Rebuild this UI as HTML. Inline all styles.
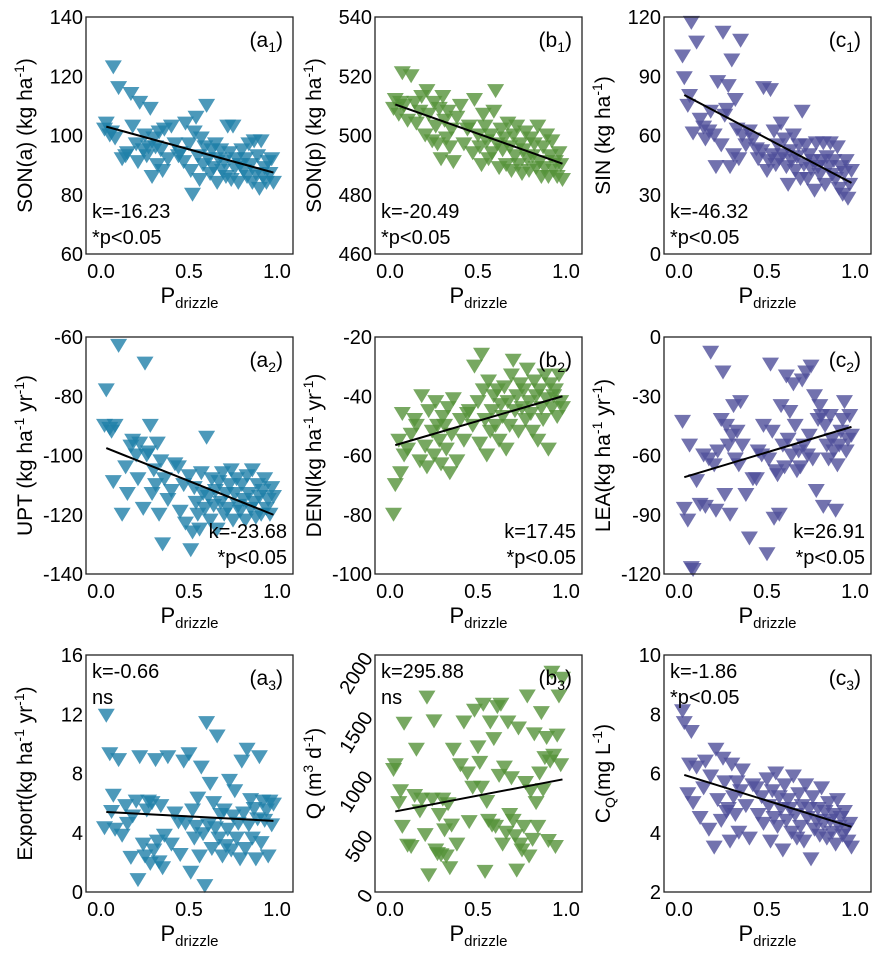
<!DOCTYPE html>
<html><head><meta charset="utf-8"><style>
html,body{margin:0;padding:0;background:#fff;}
svg{display:block;font-family:"Liberation Sans",Arial,sans-serif;}
</style></head><body>
<svg id="fig" width="882" height="957" viewBox="0 0 882 957" xmlns="http://www.w3.org/2000/svg"></svg>
<script>
const xVals=[0.02,0.03,0.05,0.07,0.08,0.1,0.12,0.14,0.15,0.17,0.18,0.2,0.21,0.22,0.24,0.25,0.26,0.28,0.29,0.3,0.31,0.32,0.33,0.34,0.35,0.36,0.38,0.4,0.42,0.45,0.47,0.48,0.5,0.51,0.52,0.53,0.54,0.55,0.56,0.57,0.58,0.59,0.6,0.61,0.62,0.63,0.64,0.65,0.66,0.67,0.68,0.69,0.7,0.71,0.72,0.73,0.74,0.75,0.76,0.77,0.78,0.79,0.8,0.81,0.82,0.83,0.84,0.85,0.86,0.87,0.88,0.89,0.9,0.91,0.92,0.93,0.94,0.95,0.96,0.97,0.98,0.06,0.27,0.44];
const yA1=[102,104,100,123,99,116,92,93,94,114,103,97,91,111,95,100,93,109,86,99,96,90,101,95,88,102,92,103,97,94,91,104,97,88,80,101,106,93,85,99,90,96,110,92,87,95,89,97,84,92,95,88,91,86,103,94,85,103,89,92,84,90,95,88,92,86,97,90,84,98,87,93,82,98,86,89,84,91,87,92,84,101,96,93];
const yB1=[509,512,507,521,510,505,520,511,504,508,513,500,515,507,498,511,503,509,492,513,505,499,508,496,502,491,506,510,497,503,494,512,500,496,490,507,503,498,492,500,494,508,515,497,489,502,495,499,490,504,496,488,500,493,503,490,497,487,495,501,492,488,499,493,497,489,503,491,486,496,489,500,486,493,498,488,491,486,494,490,485,511,497,502];
const yC1=[100,89,75,117,61,107,68,64,58,62,72,60,44,87,55,112,70,85,44,98,50,78,63,48,108,60,55,62,58,48,52,84,42,47,83,50,62,45,55,48,66,50,58,44,35,52,47,60,42,49,55,38,72,45,55,38,50,43,47,32,56,44,40,47,56,35,49,44,56,40,47,38,54,33,44,30,41,47,28,35,42,80,73,53];
const yA2=[-90,-78,-91,-109,-90,-63,-120,-104,-113,-97,-95,-100,-108,-96,-118,-69,-100,-90,-113,-105,-110,-96,-120,-102,-130,-108,-115,-112,-103,-119,-110,-123,-107,-132,-126,-111,-116,-120,-125,-106,-113,-118,-94,-114,-122,-108,-117,-112,-125,-109,-116,-106,-120,-113,-118,-110,-105,-122,-113,-108,-117,-119,-110,-115,-122,-107,-113,-118,-105,-116,-121,-110,-114,-120,-112,-108,-118,-115,-120,-111,-114,-92,-99,-104];
const yB2=[-80,-70,-55,-46,-60,-58,-53,-48,-50,-62,-40,-57,-64,-45,-52,-60,-42,-55,-63,-47,-50,-58,-44,-66,-53,-41,-62,-48,-55,-45,-50,-30,-42,-56,-26,-38,-48,-60,-35,-52,-45,-40,-50,-38,-55,-43,-47,-37,-58,-42,-50,-33,-28,-45,-40,-52,-36,-44,-38,-48,-31,-42,-46,-52,-35,-40,-55,-38,-44,-48,-33,-41,-58,-36,-44,-40,-38,-47,-33,-42,-44,-66,-50,-46];
const yC2=[-43,-87,-93,-117,-118,-73,-85,-60,-86,-62,-8,-65,-88,-58,-42,-18,-80,-55,-90,-50,-35,-62,-48,-65,-33,-55,-80,-102,-72,-58,-60,-45,-110,-62,-14,-48,-92,-68,-70,-90,-35,-55,-66,-20,-52,-38,-60,-24,-45,-68,-58,-66,-22,-55,-18,-60,-50,-15,-62,-30,-78,-42,-35,-40,-86,-45,-55,-62,-40,-52,-58,-88,-65,-55,-48,-42,-33,-58,-52,-40,-50,-55,-45,-72];
const yA3=[4.3,11.9,9.3,6.5,4.2,8.9,3.8,5.8,4.6,2.3,5.1,6.1,0.8,9.1,3.2,2.4,5.5,1.9,6,2.8,8.9,3.4,2,5.8,1.6,3.8,9.1,3.2,5.3,2.5,8.8,4.6,9.3,1.3,5.5,3.6,4.4,6.3,2.4,8.4,3.9,0.4,11.4,4.5,7.3,2.9,6,4.3,10.5,3.6,5.2,2.4,5.5,3.1,4.2,7.5,2.8,5.1,6.8,3.6,4.6,2.2,8.8,5.3,2.9,9.6,4.5,6.2,3.6,5.6,2.2,4.9,9.1,3.3,6.1,4.8,5.5,2.4,6.1,4.5,5.9,5.4,6.1,4.7];
const yB3=[1030,1070,750,550,1420,390,380,810,1200,680,780,480,1640,140,780,1440,350,650,310,780,520,300,740,200,560,1200,400,1070,1430,590,880,1530,1220,1090,880,1580,170,760,600,1430,560,1290,550,1560,980,1580,400,1050,500,1430,650,960,600,470,180,1380,400,350,550,920,1650,300,850,440,1330,750,550,1000,1510,860,1130,1300,430,1100,1850,1150,380,1320,1650,1070,1800,850,320,1000];
const yC3=[8.1,7.7,5.3,7.4,5.0,6.2,4.5,5.5,6.4,4.1,5.9,3.5,6.8,5.1,4.4,6.5,5.7,4.8,3.7,6.3,5.2,4.6,5.7,4.0,5.4,6.1,4.9,3.8,5.6,4.6,5.2,4.3,5.8,4.9,3.7,5.4,4.5,6.0,4.2,5.2,4.8,3.4,5.6,4.4,5.1,4.8,4.0,5.9,4.6,3.8,5.3,4.2,4.9,3.7,5.6,4.5,4.8,3.1,5.2,4.1,4.4,4.8,3.9,5.5,4.3,4.7,3.8,5.0,4.4,4.0,4.6,3.6,5.1,4.2,4.5,3.9,4.7,4.1,3.7,4.3,3.5,6.3,4.7,5.5];
const fitStart=[103,510.5,80.5,-97.5,-56.5,-71,5.4,680,5.95];
const fitEnd=[87.5,490.5,36,-120,-40,-45.5,4.8,950,4.2];
const fitX=[0.03,0.98];
const yTicksA1=[60,80,100,120,140],yTicksB1=[460,480,500,520,540],yTicksC1=[0,30,60,90,120];
const yTicksA2=[-140,-120,-100,-80,-60],yTicksB2=[-100,-80,-60,-40,-20],yTicksC2=[-120,-90,-60,-30,0];
const yTicksA3=[0,4,8,12,16],yTicksB3=[0,500,1000,1500,2000],yTicksC3=[2,4,6,8,10];
const xTicks=[0,0.5,1];
const xTickLabels=["0.0","0.5","1.0"];
const kTexts=["k=-16.23","k=-20.49","k=-46.32","k=-23.68","k=17.45","k=26.91","k=-0.66","k=295.88","k=-1.86"];
const pTexts=["*p<0.05","*p<0.05","*p<0.05","*p<0.05","*p<0.05","*p<0.05","ns","ns","*p<0.05"];

const NS="http://www.w3.org/2000/svg";
const svg=document.getElementById('fig');
function mk(tag,attrs,parent){const e=document.createElementNS(NS,tag);for(const k in attrs)e.setAttribute(k,attrs[k]);(parent||svg).appendChild(e);return e;}
const colors=["#1f7fa9","#55923a","#4f4f9a"];
const panels=[
 {id:"a1",col:0,row:0,y:yA1,ticks:yTicksA1,title:[["SON(a) (kg ha",0],["-1",1],[")",0]],lab:["a","1"],kpos:"bl"},
 {id:"b1",col:1,row:0,y:yB1,ticks:yTicksB1,title:[["SON(p) (kg ha",0],["-1",1],[")",0]],lab:["b","1"],kpos:"bl"},
 {id:"c1",col:2,row:0,y:yC1,ticks:yTicksC1,title:[["SIN (kg ha",0],["-1",1],[")",0]],lab:["c","1"],kpos:"bl"},
 {id:"a2",col:0,row:1,y:yA2,ticks:yTicksA2,title:[["UPT (kg ha",0],["-1",1],[" yr",0],["-1",1],[")",0]],lab:["a","2"],kpos:"br"},
 {id:"b2",col:1,row:1,y:yB2,ticks:yTicksB2,title:[["DENI(kg ha",0],["-1",1],[" yr",0],["-1",1],[")",0]],lab:["b","2"],kpos:"br"},
 {id:"c2",col:2,row:1,y:yC2,ticks:yTicksC2,title:[["LEA(kg ha",0],["-1",1],[" yr",0],["-1",1],[")",0]],lab:["c","2"],kpos:"br"},
 {id:"a3",col:0,row:2,y:yA3,ticks:yTicksA3,title:[["Export(kg ha",0],["-1",1],[" yr",0],["-1",1],[")",0]],lab:["a","3"],kpos:"tl"},
 {id:"b3",col:1,row:2,y:yB3,ticks:yTicksB3,title:[["Q (m",0],["3",1],[" d",0],["-1",1],[")",0]],lab:["b","3"],kpos:"tl",rot:true},
 {id:"c3",col:2,row:2,y:yC3,ticks:yTicksC3,title:[["C",0],["Q",2],["(mg L",0],["-1",1],[")",0]],lab:["c","3"],kpos:"tl"}
];
const lefts=[86,375,664],tops=[17,337,655],W=207,H=237;
panels.forEach((p,i)=>{
 const L=lefts[p.col],T=tops[p.row];
 const ymin=p.ticks[0],ymax=p.ticks[p.ticks.length-1];
 const sx=v=>L+15+(v)*176;
 const sy=v=>T+H-(v-ymin)/(ymax-ymin)*H;
 const g=mk('g',{});
 
 
 const pg=mk('g',{fill:colors[p.col],'fill-opacity':0.8},g);
 
 
 const n=Math.min(xVals.length,p.y.length);
 for(let j=0;j<n;j++){
  const cx=sx(xVals[j]),cy=sy(p.y[j]);
  const t=mk('polygon',{points:`${cx-8.5},${cy-7} ${cx+8.5},${cy-7} ${cx},${cy+7}`},pg);
  
  
 }
 const ln=mk('line',{x1:sx(fitX[0]),y1:sy(fitStart[i]),x2:sx(fitX[1]),y2:sy(fitEnd[i]),stroke:'#000','stroke-width':2},g);
 
 
 const bx=mk('rect',{x:L,y:T,width:W,height:H,fill:'none',stroke:'#222','stroke-width':1.3},g);
 
 
 p.ticks.forEach(v=>{
  let t;
  if(p.rot){
   const x=L-6,y=sy(v);
   t=mk('text',{x:x,y:y,'font-size':20,'text-anchor':'end',transform:`rotate(-58 ${x} ${y})`,'dominant-baseline':'middle'},g);
  } else {
   t=mk('text',{x:L-3,y:sy(v)+7,'font-size':20,'text-anchor':'end'},g);
  }
  t.textContent=String(v);
  
  
 });
 xTicks.forEach((v,k)=>{
  const t=mk('text',{x:sx(v),y:T+H+24,'font-size':20,'text-anchor':'middle'},g);
  t.textContent=xTickLabels[k];
  
  
 });
 const xt=mk('text',{x:L+W/2,y:T+H+49,'font-size':22,'text-anchor':'middle'},g);
 
 
 const s1=mk('tspan',{},xt);s1.textContent='P';
 const s2=mk('tspan',{'font-size':15,dy:5},xt);s2.textContent='drizzle';
 const yx=L-54,yy=T+H/2;
 const yt=mk('text',{x:yx,y:yy,'font-size':21,'text-anchor':'middle',transform:`rotate(-90 ${yx} ${yy})`},g);
 
 
 let prev=0;
 p.title.forEach(([s,ty])=>{
  const off=ty==1?-8:(ty==2?5:0);
  const ts=mk('tspan',{dy:off-prev},yt);
  if(ty) ts.setAttribute('font-size',14);
  ts.textContent=s;prev=off;
 });
 const pl=mk('text',{x:L+W-10,y:T+30,'font-size':21,'text-anchor':'end'},g);
 
 
 const q1=mk('tspan',{},pl);q1.textContent='('+p.lab[0];
 const q2=mk('tspan',{'font-size':14,dy:5},pl);q2.textContent=p.lab[1];
 const q3=mk('tspan',{dy:-5},pl);q3.textContent=')';
 let kx,ky,anchor;
 if(p.kpos=='bl'){kx=L+6;ky=T+H-36;anchor='start';}
 else if(p.kpos=='br'){kx=L+W-6;ky=T+H-36;anchor='end';}
 else {kx=L+6;ky=T+23;anchor='start';}
 const kt=mk('text',{x:kx,y:ky,'font-size':20,'text-anchor':anchor},g);
 kt.textContent=kTexts[i];
 
 
 const pt=mk('text',{x:kx,y:ky+26,'font-size':20,'text-anchor':anchor},g);
 pt.textContent=pTexts[i];
 
 
});
</script>
</body></html>
